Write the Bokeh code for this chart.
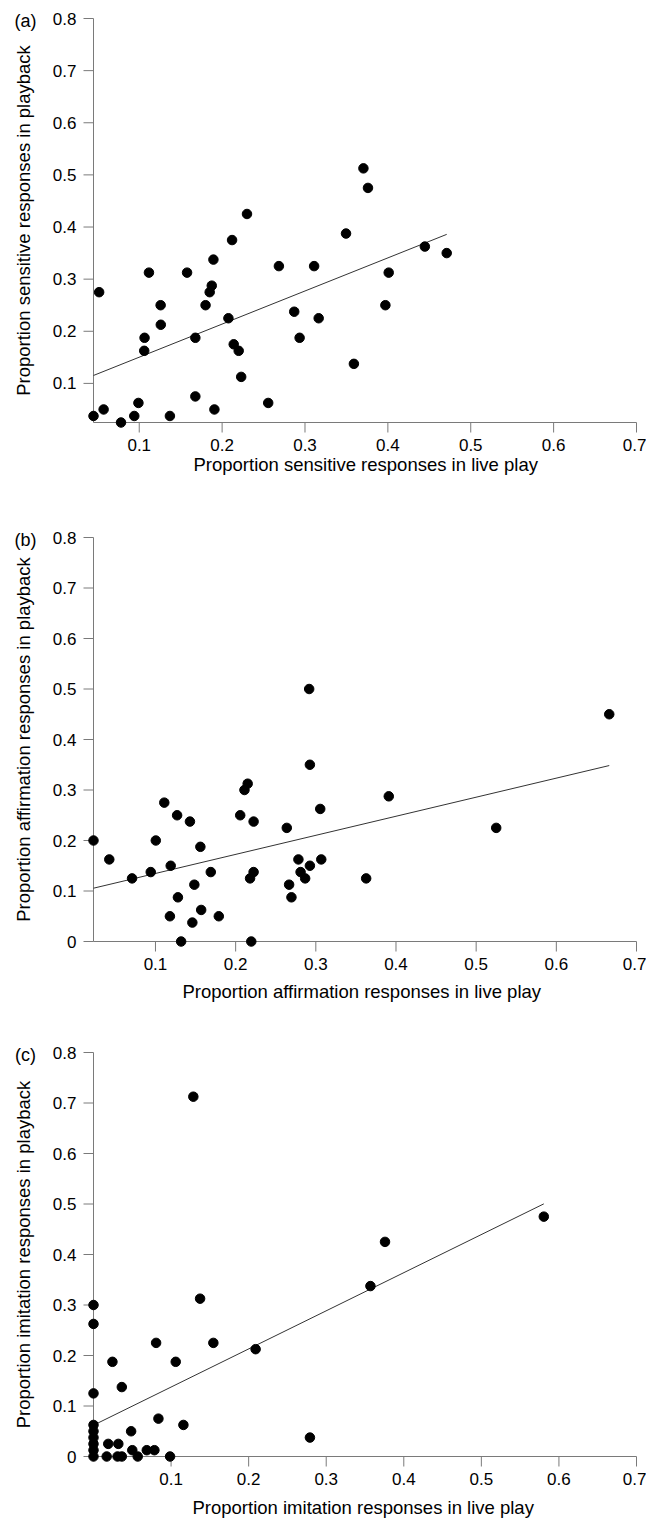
import math
from bokeh.plotting import figure
from bokeh.models import Range1d, FixedTicker, Title
from bokeh.layouts import column
from bokeh.embed import file_html
from bokeh.resources import INLINE
from bokeh.core.properties import value

# ---------------- data ----------------
# (a) sensitive responses
A_live = [0.0448, 0.0516, 0.057, 0.078, 0.094, 0.099, 0.1064, 0.106, 0.1117, 0.1258,
          0.126, 0.137, 0.1577, 0.1677, 0.1677, 0.180, 0.185, 0.1875, 0.1895, 0.1907,
          0.2076, 0.214, 0.220, 0.223, 0.2556, 0.2685, 0.287, 0.2935, 0.311, 0.3165,
          0.359, 0.397, 0.401, 0.471, 0.4446, 0.230, 0.212, 0.3705, 0.376, 0.3495]
A_play = [0.0375, 0.275, 0.05, 0.025, 0.0375, 0.0625, 0.1875, 0.1625, 0.3125, 0.25,
          0.2125, 0.0375, 0.3125, 0.1875, 0.075, 0.25, 0.275, 0.2875, 0.3375, 0.05,
          0.225, 0.175, 0.1625, 0.1125, 0.0625, 0.325, 0.2375, 0.1875, 0.325, 0.225,
          0.1375, 0.25, 0.3125, 0.35, 0.3625, 0.425, 0.375, 0.5125, 0.475, 0.3875]
A_fit = (0.0868, 0.635)   # intercept, slope

# (b) affirmation responses
B_live = [0.0227, 0.0424, 0.0708, 0.0941, 0.1004, 0.111, 0.118, 0.119, 0.127, 0.128,
          0.132, 0.143, 0.146, 0.1485, 0.156, 0.157, 0.169, 0.179, 0.2057, 0.211,
          0.215, 0.2224, 0.218, 0.2224, 0.2195, 0.2638, 0.2667, 0.2696, 0.2783, 0.281,
          0.2867, 0.2926, 0.2917, 0.2926, 0.3055, 0.3068, 0.3628, 0.391, 0.525, 0.666]
B_play = [0.2, 0.1625, 0.125, 0.1375, 0.2, 0.275, 0.05, 0.15, 0.25, 0.0875,
          0.0, 0.2375, 0.0375, 0.1125, 0.1875, 0.0625, 0.1375, 0.05, 0.25, 0.3,
          0.3125, 0.2375, 0.125, 0.1375, 0.0, 0.225, 0.1125, 0.0875, 0.1625, 0.1375,
          0.125, 0.15, 0.5, 0.35, 0.2625, 0.1625, 0.125, 0.2875, 0.225, 0.45]
B_fit = (0.097, 0.3775)

# (c) imitation responses
C_live = [0.0, 0.0, 0.0, 0.0, 0.0, 0.0, 0.0, 0.0, 0.0,
          0.0244, 0.019, 0.032, 0.017, 0.031, 0.0365, 0.0365, 0.0485, 0.050, 0.057,
          0.0687, 0.0785, 0.0807, 0.0837, 0.0987, 0.106, 0.1159, 0.1374, 0.1545, 0.209,
          0.279, 0.357, 0.1287, 0.3758, 0.5805]
C_play = [0.3, 0.2625, 0.125, 0.0625, 0.05, 0.0375, 0.025, 0.0125, 0.0,
          0.1875, 0.025, 0.025, 0.0, 0.0, 0.0, 0.1375, 0.05, 0.0125, 0.0,
          0.0125, 0.0125, 0.225, 0.075, 0.0, 0.1875, 0.0625, 0.3125, 0.225, 0.2125,
          0.0375, 0.3375, 0.7125, 0.425, 0.475]
C_fit = (0.062, 0.755)

X_TICKS = [0.1, 0.2, 0.3, 0.4, 0.5, 0.6, 0.7]
Y_TICKS_A = [0.1, 0.2, 0.3, 0.4, 0.5, 0.6, 0.7, 0.8]
Y_TICKS_BC = [0.0, 0.1, 0.2, 0.3, 0.4, 0.5, 0.6, 0.7, 0.8]
X_END = 0.7
Y_END = 0.8

# ---------------- layout / style ----------------
AX_W, AX_H = 543, 404          # pixel length of the drawn axes
LEFT, PAD_B, PAD_T, PAD_R = 85, 11, 10, 2
TICK = 10
FONT = "Liberation Sans"
AXIS_GRAY = "#7a7a7a"


def make_panel(xs, ys, fit, letter, xlabel, ylabel, yticks, border_bottom,
               title_offset, title_standoff):
    x0, y0 = min(xs), min(ys)
    ux = (X_END - x0) / AX_W
    uy = (Y_END - y0) / AX_H
    p = figure(frame_width=LEFT + AX_W + PAD_R, frame_height=AX_H + PAD_T + PAD_B,
               x_range=Range1d(x0 - LEFT * ux, X_END + PAD_R * ux),
               y_range=Range1d(y0 - PAD_B * uy, Y_END + PAD_T * uy),
               output_backend="svg", toolbar_location=None,
               min_border_left=8, min_border_right=8, min_border_top=8,
               min_border_bottom=border_bottom)
    p.xgrid.visible = False
    p.ygrid.visible = False
    p.outline_line_color = None
    p.background_fill_color = "white"
    p.yaxis.visible = False

    # x axis carries the tick label texts only
    ax = p.xaxis
    ax.ticker = FixedTicker(ticks=X_TICKS)
    ax.axis_line_color = None
    ax.major_tick_line_color = None
    ax.minor_tick_line_color = None
    ax.major_tick_in = 0
    ax.major_tick_out = 0
    ax.minor_tick_in = 0
    ax.minor_tick_out = 0
    ax.major_label_text_font = FONT
    ax.major_label_text_font_size = "17px"
    ax.major_label_text_color = "black"
    ax.major_label_standoff = 5

    p.add_layout(Title(text=xlabel, align="left", offset=title_offset,
                       standoff=title_standoff, vertical_align="top",
                       text_font=FONT, text_font_size="18.5px",
                       text_font_style="normal", text_color="black"), "below")

    # axis lines and tick marks
    nx, ny = len(X_TICKS), len(yticks)
    p.segment(x0=[x0, x0], y0=[y0, y0], x1=[X_END, x0], y1=[y0, Y_END],
              line_color=AXIS_GRAY, line_width=1)
    p.segment(x0=X_TICKS, y0=[y0] * nx, x1=X_TICKS, y1=[y0 - TICK * uy] * nx,
              line_color=AXIS_GRAY, line_width=1)
    p.segment(x0=[x0] * ny, y0=yticks, x1=[x0 - TICK * ux] * ny, y1=yticks,
              line_color=AXIS_GRAY, line_width=1)

    # y tick labels, y title and panel letter
    p.text(x=[x0 - 17 * ux] * ny, y=yticks, text=[f"{t:g}" for t in yticks],
           text_align="right", text_baseline="middle", text_font=value(FONT),
           text_font_size="17px", text_color="black")
    p.text(x=[x0 - 70 * ux], y=[(y0 + Y_END) / 2], text=[ylabel], angle=math.pi / 2,
           text_align="center", text_baseline="middle", text_font=value(FONT),
           text_font_size="18.5px", text_color="black")
    p.text(x=[x0 - 68 * ux], y=[Y_END - 2 * uy], text=[letter],
           text_align="center", text_baseline="middle", text_font=value(FONT),
           text_font_size="18px", text_color="black")

    b0, b1 = fit
    lx = [min(xs), max(xs)]
    p.line(lx, [b0 + b1 * v for v in lx], line_color="#333333", line_width=1)
    p.scatter(xs, ys, size=9.5, color="black")
    return p


pa = make_panel(A_live, A_play, A_fit, "(a)",
                "Proportion sensitive responses in live play",
                "Proportion sensitive responses in playback", Y_TICKS_A, 86, 185, 0)
pb = make_panel(B_live, B_play, B_fit, "(b)",
                "Proportion affirmation responses in live play",
                "Proportion affirmation responses in playback", Y_TICKS_BC, 82, 174, 16)
pc = make_panel(C_live, C_play, C_fit, "(c)",
                "Proportion imitation responses in live play",
                "Proportion imitation responses in playback", Y_TICKS_BC, 55, 184, 18)

layout = column(pa, pb, pc)
open("out.html", "w").write(file_html(layout, INLINE))
